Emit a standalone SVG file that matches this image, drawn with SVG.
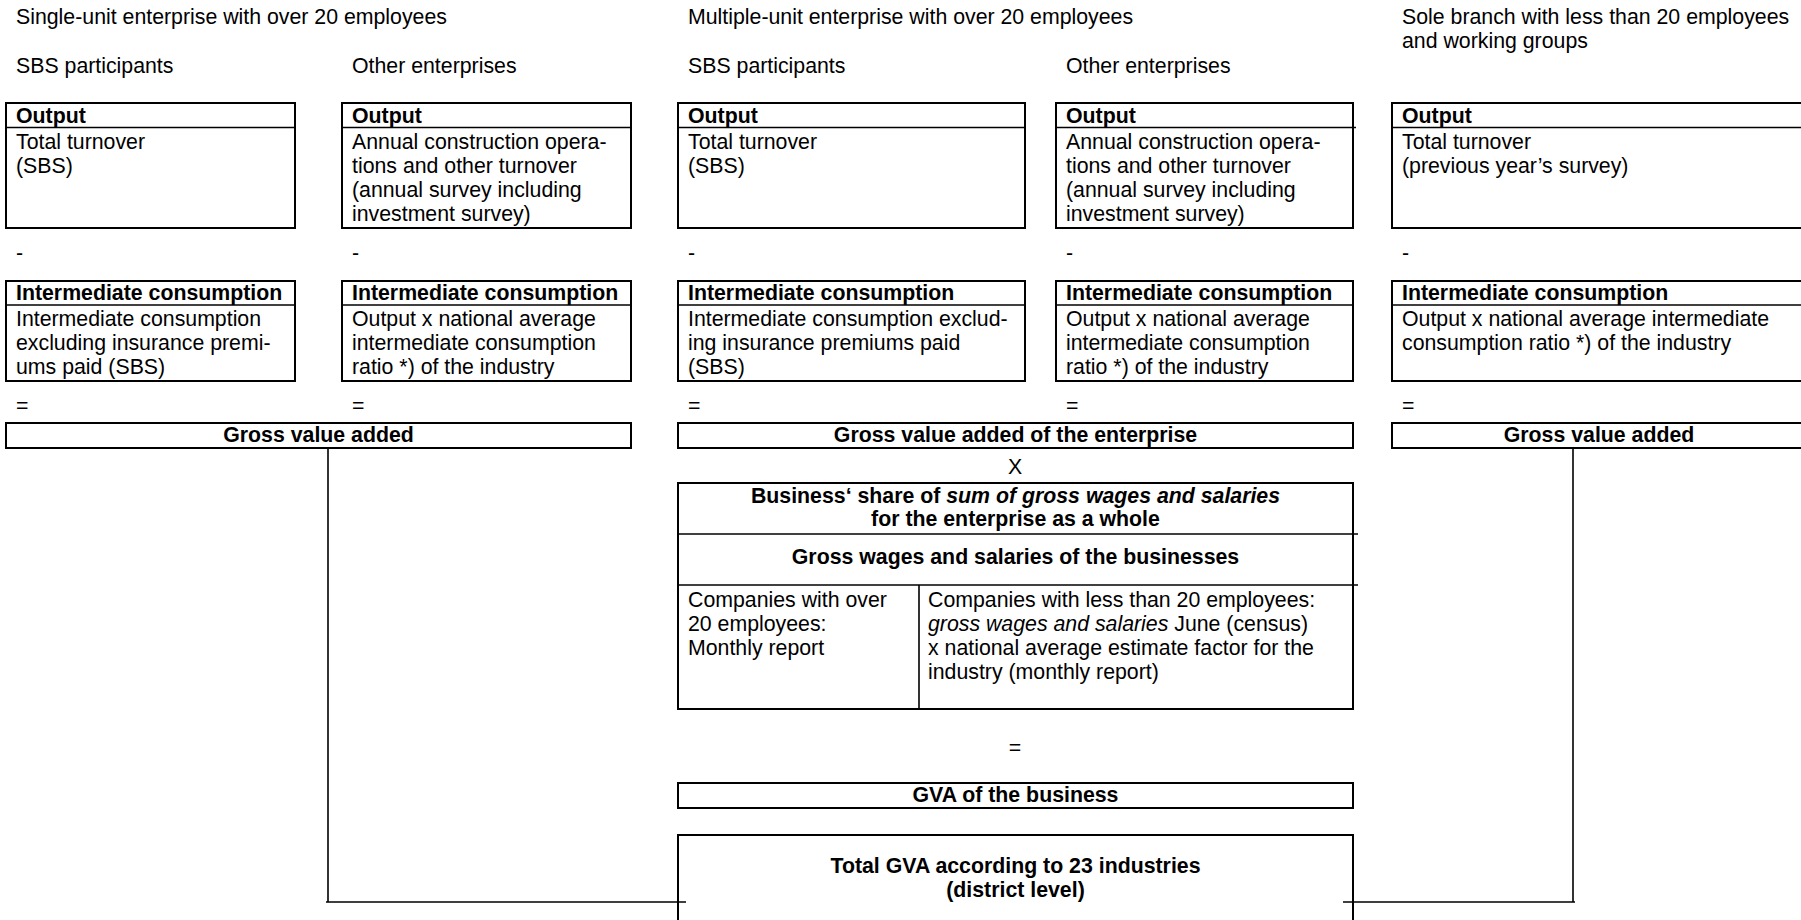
<svg xmlns="http://www.w3.org/2000/svg" width="1801" height="920" viewBox="0 0 1801 920">
<style>
text{font-family:"Liberation Sans",Arial,sans-serif;font-size:21.3px;fill:#000}
.b{font-weight:bold}
.c{text-anchor:middle}
.i{font-style:italic}
.box{fill:none;stroke:#000;stroke-width:2}
.div{stroke:#000;stroke-width:1.6;fill:none}
.ln{stroke:#000;stroke-width:1.6;fill:none}
</style>
<rect width="1801" height="920" fill="#fff"/>

<g id="headers">
<text x="16" y="24">Single-unit enterprise with over 20 employees</text>
<text x="688" y="24">Multiple-unit enterprise with over 20 employees</text>
<text x="1402" y="24">Sole branch with less than 20 employees</text>
<text x="1402" y="48">and working groups</text>
<text x="16" y="73">SBS participants</text>
<text x="352" y="73">Other enterprises</text>
<text x="688" y="73">SBS participants</text>
<text x="1066" y="73">Other enterprises</text>
</g>

<g id="operators">
<text x="16" y="260">-</text>
<text x="352" y="260">-</text>
<text x="688" y="260">-</text>
<text x="1066" y="260">-</text>
<text x="1402" y="260">-</text>
<text x="16" y="413">=</text>
<text x="352" y="413">=</text>
<text x="688" y="413">=</text>
<text x="1066" y="413">=</text>
<text x="1402" y="413">=</text>
<text x="1015" y="474" class="c">X</text>
<text x="1015" y="755" class="c">=</text>
</g>

<g id="output-a">
<rect class="box" x="6" y="103" width="289" height="125"/>
<line class="div" x1="6" y1="127.5" x2="295" y2="127.5"/>
<text x="16" y="122.5" class="b">Output</text>
<text x="16" y="148.5">Total turnover</text>
<text x="16" y="172.5">(SBS)</text>
</g>
<g id="output-b">
<rect class="box" x="342" y="103" width="289" height="125"/>
<line class="div" x1="342" y1="127.5" x2="631" y2="127.5"/>
<text x="352" y="122.5" class="b">Output</text>
<text x="352" y="148.5">Annual construction opera-</text>
<text x="352" y="172.5">tions and other turnover</text>
<text x="352" y="196.5">(annual survey including</text>
<text x="352" y="220.5">investment survey)</text>
</g>
<g id="output-c">
<rect class="box" x="678" y="103" width="347" height="125"/>
<line class="div" x1="678" y1="127.5" x2="1025" y2="127.5"/>
<text x="688" y="122.5" class="b">Output</text>
<text x="688" y="148.5">Total turnover</text>
<text x="688" y="172.5">(SBS)</text>
</g>
<g id="output-d">
<rect class="box" x="1056" y="103" width="297" height="125"/>
<line class="div" x1="1056" y1="127.5" x2="1356" y2="127.5"/>
<text x="1066" y="122.5" class="b">Output</text>
<text x="1066" y="148.5">Annual construction opera-</text>
<text x="1066" y="172.5">tions and other turnover</text>
<text x="1066" y="196.5">(annual survey including</text>
<text x="1066" y="220.5">investment survey)</text>
</g>
<g id="output-e">
<rect class="box" x="1392" y="103" width="414" height="125"/>
<line class="div" x1="1392" y1="127.5" x2="1806" y2="127.5"/>
<text x="1402" y="122.5" class="b">Output</text>
<text x="1402" y="148.5">Total turnover</text>
<text x="1402" y="172.5">(previous year’s survey)</text>
</g>

<g id="ic-a">
<rect class="box" x="6" y="281" width="289" height="100"/>
<line class="div" x1="6" y1="305" x2="295" y2="305"/>
<text x="16" y="300" class="b">Intermediate consumption</text>
<text x="16" y="326">Intermediate consumption</text>
<text x="16" y="350">excluding insurance premi-</text>
<text x="16" y="374">ums paid (SBS)</text>
</g>
<g id="ic-b">
<rect class="box" x="342" y="281" width="289" height="100"/>
<line class="div" x1="342" y1="305" x2="631" y2="305"/>
<text x="352" y="300" class="b">Intermediate consumption</text>
<text x="352" y="326">Output x national average</text>
<text x="352" y="350">intermediate consumption</text>
<text x="352" y="374">ratio *) of the industry</text>
</g>
<g id="ic-c">
<rect class="box" x="678" y="281" width="347" height="100"/>
<line class="div" x1="678" y1="305" x2="1025" y2="305"/>
<text x="688" y="300" class="b">Intermediate consumption</text>
<text x="688" y="326">Intermediate consumption exclud-</text>
<text x="688" y="350">ing insurance premiums paid</text>
<text x="688" y="374">(SBS)</text>
</g>
<g id="ic-d">
<rect class="box" x="1056" y="281" width="297" height="100"/>
<line class="div" x1="1056" y1="305" x2="1353" y2="305"/>
<text x="1066" y="300" class="b">Intermediate consumption</text>
<text x="1066" y="326">Output x national average</text>
<text x="1066" y="350">intermediate consumption</text>
<text x="1066" y="374">ratio *) of the industry</text>
</g>
<g id="ic-e">
<rect class="box" x="1392" y="281" width="414" height="100"/>
<line class="div" x1="1392" y1="305" x2="1806" y2="305"/>
<text x="1402" y="300" class="b">Intermediate consumption</text>
<text x="1402" y="326">Output x national average intermediate</text>
<text x="1402" y="350">consumption ratio *) of the industry</text>
</g>

<g id="gva-a">
<rect class="box" x="6" y="423" width="625" height="25"/>
<text x="318.5" y="442" class="b c">Gross value added</text>
</g>
<g id="gva-c">
<rect class="box" x="678" y="423" width="675" height="25"/>
<text x="1015.5" y="442" class="b c">Gross value added of the enterprise</text>
</g>
<g id="gva-e">
<rect class="box" x="1392" y="423" width="414" height="25"/>
<text x="1599" y="442" class="b c">Gross value added</text>
</g>

<g id="business-share">
<rect class="box" x="678" y="483" width="675" height="226"/>
<line class="div" x1="678" y1="534" x2="1358" y2="534"/>
<line class="div" x1="678" y1="585" x2="1358" y2="585"/>
<line class="div" x1="919" y1="585" x2="919" y2="709"/>
<text x="1015.5" y="503" class="b c">Business‘ share of <tspan class="i">sum of gross wages and salaries</tspan></text>
<text x="1015.5" y="526" class="b c">for the enterprise as a whole</text>
<text x="1015.5" y="564" class="b c">Gross wages and salaries of the businesses</text>
<text x="688" y="607">Companies with over</text>
<text x="688" y="631">20 employees:</text>
<text x="688" y="655">Monthly report</text>
<text x="928" y="607">Companies with less than 20 employees:</text>
<text x="928" y="631"><tspan class="i">gross wages and salaries</tspan> June (census)</text>
<text x="928" y="655">x national average estimate factor for the</text>
<text x="928" y="679">industry (monthly report)</text>
</g>

<g id="gva-business">
<rect class="box" x="678" y="783" width="675" height="25"/>
<text x="1015.5" y="802" class="b c">GVA of the business</text>
</g>

<g id="total-gva">
<rect class="box" x="678" y="835" width="675" height="100"/>
<text x="1015.5" y="873" class="b c">Total GVA according to 23 industries</text>
<text x="1015.5" y="897" class="b c">(district level)</text>
</g>

<g id="connectors">
<polyline class="ln" points="328,448 328,902 326,902 686,902"/>
<polyline class="ln" points="1573,448 1573,902 1575,902 1343,902"/>
</g>
</svg>
